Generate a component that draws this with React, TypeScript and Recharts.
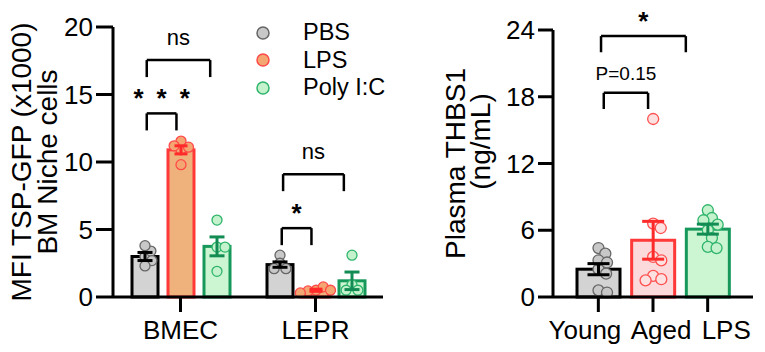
import React from "react";
import { ComposedChart, Bar, XAxis, YAxis, ReferenceLine, Legend } from "recharts";

const FONT = '"Liberation Sans", Arial, Helvetica, sans-serif';

// ---- left panel: TSP-GFP MFI in BM niche cells (x1000) ----
const nicheGroups = ["BMEC", "LEPR"];
const treatments = ["PBS", "LPS", "Poly I:C"];
const pbsMean = [3.0, 2.4];
const pbsSem = [0.3, 0.2];
const pbsPoints = [
  [3.0, 3.4, 3.8, 2.7, 2.3],
  [3.1, 2.5, 2.1, 2.1],
];
const lpsMean = [10.9, 0.5];
const lpsSem = [0.3, 0.08];
const lpsPoints = [
  [10.9, 11.55, 11.1, 11.2, 9.8],
  [0.5, 0.75, 0.45, 0.5, 0.3],
];
const polyMean = [3.75, 1.2];
const polySem = [0.7, 0.65];
const polyPoints = [
  [3.7, 3.7, 5.7, 1.9],
  [0.9, 0.5, 0.5, 3.1],
];
const nicheTicks = [0, 5, 10, 15, 20];
const nicheTitle = ["MFI TSP-GFP (x1000)", "BM Niche cells"];
// brackets: x in category units (0 = BMEC centre, 1 = LEPR centre), y in axis units
const nicheBrackets = [
  { x1: -0.25, x2: 0.22, y: 17.55, label: "ns" },
  { x1: -0.25, x2: -0.03, y: 13.6, label: "*\u2002*\u2002*" },
  { x1: 0.76, x2: 1.21, y: 9.1, label: "ns" },
  { x1: 0.75, x2: 0.97, y: 5.1, label: "*" },
];

// ---- right panel: plasma THBS1 ----
const ageGroups = ["Young", "Aged", "LPS"];
const thbsMean = [2.5, 5.1, 6.1];
const thbsSem = [0.5, 1.7, 0.45];
const thbsPoints = [
  [2.5, 4.4, 3.9, 3.3, 3.1, 2.1, 0.6, 0.4],
  [16.0, 6.6, 6.2, 3.6, 3.3, 1.9, 1.6, 1.5],
  [6.0, 7.8, 7.1, 6.9, 6.5, 5.3, 4.5, 4.4],
];
const thbsTicks = [0, 6, 12, 18, 24];
const thbsTitle = ["Plasma THBS1", "(ng/mL)"];
// brackets: x in category index units, y in axis units
const thbsBrackets = [
  { x1: 0.05, x2: 1.6, y: 23.45, label: "*" },
  { x1: 0.1, x2: 0.91, y: 18.35, label: "P=0.15" },
];

// ---- styles ----
const gray = { fill: "#d3d3d3", stroke: "#000", dotFill: "#c8c8c8", dotStroke: "#666", err: "#000" };
const orange = { fill: "#f0b27c", stroke: "#ff3838", dotFill: "#f4a672", dotStroke: "#ff4a4a", err: "#ff2a2a" };
const green = { fill: "#ccf6d2", stroke: "#17985b", dotFill: "#c4f2cc", dotStroke: "#2eb46b", err: "#138c54" };
const pink = { fill: "#fcdadc", stroke: "#ff3838", dotFill: "#fde0e0", dotStroke: "#ff5050", err: "#ff2a2a" };
const nicheStyles = [gray, orange, green];
const thbsStyles = [gray, pink, green];

const nicheData = nicheGroups.map((g, i) => ({
  group: g,
  pbs: pbsMean[i],
  lps: lpsMean[i],
  poly: polyMean[i],
}));
const thbsData = ageGroups.map((g, i) => ({ group: g, mean: thbsMean[i] }));

// simple beeswarm: horizontal offsets, dots may overlap a little like prism does
function swarm(ys: number[], r: number): number[] {
  const d = 1.6 * r;
  const placed: { x: number; y: number }[] = [];
  return ys.map((y) => {
    const cands = [0];
    placed.forEach((p) => {
      const dy = Math.abs(p.y - y);
      if (dy < d) {
        const dx = Math.sqrt(d * d - dy * dy);
        cands.push(p.x + dx, p.x - dx);
      }
    });
    cands.sort((a, b) => Math.abs(a) - Math.abs(b) || b - a);
    const x = cands.find((c) => placed.every((p) => Math.hypot(p.x - c, p.y - y) >= d - 0.01)) ?? 0;
    placed.push({ x, y });
    return x;
  });
}

// bar + dots + SEM, scaled from the bar geometry recharts hands us
function makeShape(
  groups: string[],
  key: string,
  points: number[][],
  sems: number[],
  styleOf: (i: number) => typeof gray,
  r: number,
  cap: number
) {
  return (props: any) => {
    const { x, y, width, height, payload } = props;
    const i = groups.indexOf(payload.group);
    const v = payload[key];
    const k = height / v;
    const base = y + height;
    const cx = x + width / 2;
    const s = styleOf(i);
    const ys = points[i].map((p) => base - p * k);
    const xs = swarm(ys, r);
    const hi = base - (v + sems[i]) * k;
    const lo = base - (v - sems[i]) * k;
    return (
      <g>
        <rect x={x} y={y} width={width} height={height} fill={s.fill} stroke={s.stroke} strokeWidth={3} />
        {ys.map((py, j) => (
          <circle key={j} cx={cx + xs[j]} cy={py} r={r} fill={s.dotFill} stroke={s.dotStroke} strokeWidth={1.3} />
        ))}
        <g stroke={s.err} strokeWidth={3}>
          <line x1={cx} x2={cx} y1={hi} y2={lo} />
          <line x1={cx - cap / 2} x2={cx + cap / 2} y1={hi} y2={hi} />
          <line x1={cx - cap / 2} x2={cx + cap / 2} y1={lo} y2={lo} />
        </g>
      </g>
    );
  };
}

function labelFor(text: string) {
  const base = { value: text, position: "top" as const, fill: "#000", fontFamily: FONT };
  if (text.startsWith("*")) return { ...base, fontSize: 26, fontWeight: 700, offset: 6 };
  if (text === "ns") return { ...base, fontSize: 22, offset: 15 };
  return { ...base, fontSize: 19, offset: 13 };
}

function brackets(list: { x1: number; x2: number; y: number; label: string }[], drop: number) {
  const line = { xAxisId: "pos", stroke: "#000", strokeWidth: 2.5, ifOverflow: "visible" as const };
  return list.flatMap((b, i) => [
    <ReferenceLine key={`l${i}`} {...line} segment={[{ x: b.x1, y: b.y - drop }, { x: b.x1, y: b.y }]} />,
    <ReferenceLine key={`r${i}`} {...line} segment={[{ x: b.x2, y: b.y - drop }, { x: b.x2, y: b.y }]} />,
    <ReferenceLine
      key={`t${i}`}
      {...line}
      segment={[{ x: b.x1, y: b.y }, { x: b.x2, y: b.y }]}
      label={labelFor(b.label)}
    />,
  ]);
}

function axisTitle(lines: string[], baselines: number[], shifts: number[]) {
  return (props: any) => {
    const vb = props.viewBox || { x: 0, y: 0, width: 0, height: 0 };
    const cy = vb.y + vb.height / 2;
    return (
      <g>
        {lines.map((t, i) => (
          <text
            key={t}
            transform={`translate(${vb.x + baselines[i]}, ${cy + shifts[i]}) rotate(-90)`}
            textAnchor="middle"
            fontSize={28}
            fontFamily={FONT}
            fill="#000"
          >
            {t}
          </text>
        ))}
      </g>
    );
  };
}

const tickStyle = { fontSize: 26, fill: "#000", fontFamily: FONT };
const axisLine = { stroke: "#000", strokeWidth: 3 };

function NicheLegend() {
  return (
    <div style={{ fontFamily: FONT, fontSize: 23.5, color: "#000" }}>
      {treatments.map((t, i) => (
        <div key={t} style={{ display: "flex", alignItems: "center", height: 27.5 }}>
          <svg width={48} height={16} style={{ flexShrink: 0 }}>
            <circle cx={8} cy={8} r={6} fill={nicheStyles[i].dotFill} stroke={nicheStyles[i].dotStroke} strokeWidth={1.5} />
          </svg>
          <span>{t}</span>
        </div>
      ))}
    </div>
  );
}

function AgeTick(props: any) {
  const { x, y, payload, index } = props;
  const last = ageGroups.length - 1;
  const anchor = index === 0 ? "end" : index === last ? "start" : "middle";
  const dx = index === 0 ? 23 : index === last ? -6 : 8;
  return (
    <text x={x + dx} y={y} dy="0.71em" textAnchor={anchor} {...tickStyle}>
      {payload.value}
    </text>
  );
}

export default function App() {
  return (
    <div style={{ position: "relative", width: 765, height: 352, margin: -8, background: "#fff", fontFamily: FONT }}>
      <div style={{ position: "absolute", left: 0, top: 0 }}>
        <ComposedChart
          width={400}
          height={352}
          data={nicheData}
          margin={{ top: 27, right: 17, bottom: 5, left: 0 }}
          barSize={26}
          barGap={10}
        >
          <XAxis
            xAxisId="cat"
            dataKey="group"
            height={50}
            axisLine={axisLine}
            tickLine={axisLine}
            tickSize={15}
            tickMargin={9}
            tick={tickStyle}
            interval={0}
          />
          {/* hidden helper axis: category centres at 0..n-1, used for the brackets */}
          <XAxis
            xAxisId="pos"
            type="number"
            domain={[0, nicheGroups.length - 1]}
            padding={{ left: 67.5, right: 67.5 }}
            allowDataOverflow
            hide
          />
          <YAxis
            width={113}
            domain={[0, 20]}
            ticks={nicheTicks}
            axisLine={axisLine}
            tickLine={axisLine}
            tickSize={17}
            tickMargin={3}
            tick={tickStyle}
            label={axisTitle(nicheTitle, [31, 57], [0, 0])}
          />
          <Legend
            layout="vertical"
            align="center"
            verticalAlign="middle"
            wrapperStyle={{ left: 255, top: 19 }}
            content={() => <NicheLegend />}
          />
          <Bar xAxisId="cat" dataKey="pbs" name="PBS" isAnimationActive={false}
            shape={makeShape(nicheGroups, "pbs", pbsPoints, pbsSem, () => gray, 5, 15)} />
          <Bar xAxisId="cat" dataKey="lps" name="LPS" isAnimationActive={false}
            shape={makeShape(nicheGroups, "lps", lpsPoints, lpsSem, () => orange, 5, 13)} />
          <Bar xAxisId="cat" dataKey="poly" name="Poly I:C" isAnimationActive={false}
            shape={makeShape(nicheGroups, "poly", polyPoints, polySem, () => green, 5, 15)} />
          {brackets(nicheBrackets, 1.26)}
        </ComposedChart>
      </div>
      <div style={{ position: "absolute", left: 400, top: 0 }}>
        <ComposedChart
          width={365}
          height={352}
          data={thbsData}
          margin={{ top: 30, right: 12, bottom: 5, left: 0 }}
          barSize={43}
        >
          <XAxis
            xAxisId="cat"
            dataKey="group"
            height={50}
            padding={{ left: 18, right: 18 }}
            axisLine={axisLine}
            tickLine={axisLine}
            tickSize={15}
            tickMargin={9}
            tick={<AgeTick />}
            interval={0}
          />
          <XAxis
            xAxisId="pos"
            type="number"
            domain={[0, ageGroups.length - 1]}
            padding={{ left: 45.3, right: 45.3 }}
            allowDataOverflow
            hide
          />
          <YAxis
            width={153}
            domain={[0, 24]}
            ticks={thbsTicks}
            axisLine={axisLine}
            tickLine={axisLine}
            tickSize={15}
            tickMargin={3}
            tick={tickStyle}
            label={axisTitle(thbsTitle, [65, 90], [0, -22])}
          />
          <Bar xAxisId="cat" dataKey="mean" isAnimationActive={false}
            shape={makeShape(ageGroups, "mean", thbsPoints, thbsSem, (i) => thbsStyles[i], 5.5, 22)} />
          {brackets(thbsBrackets, 1.45)}
        </ComposedChart>
      </div>
    </div>
  );
}
